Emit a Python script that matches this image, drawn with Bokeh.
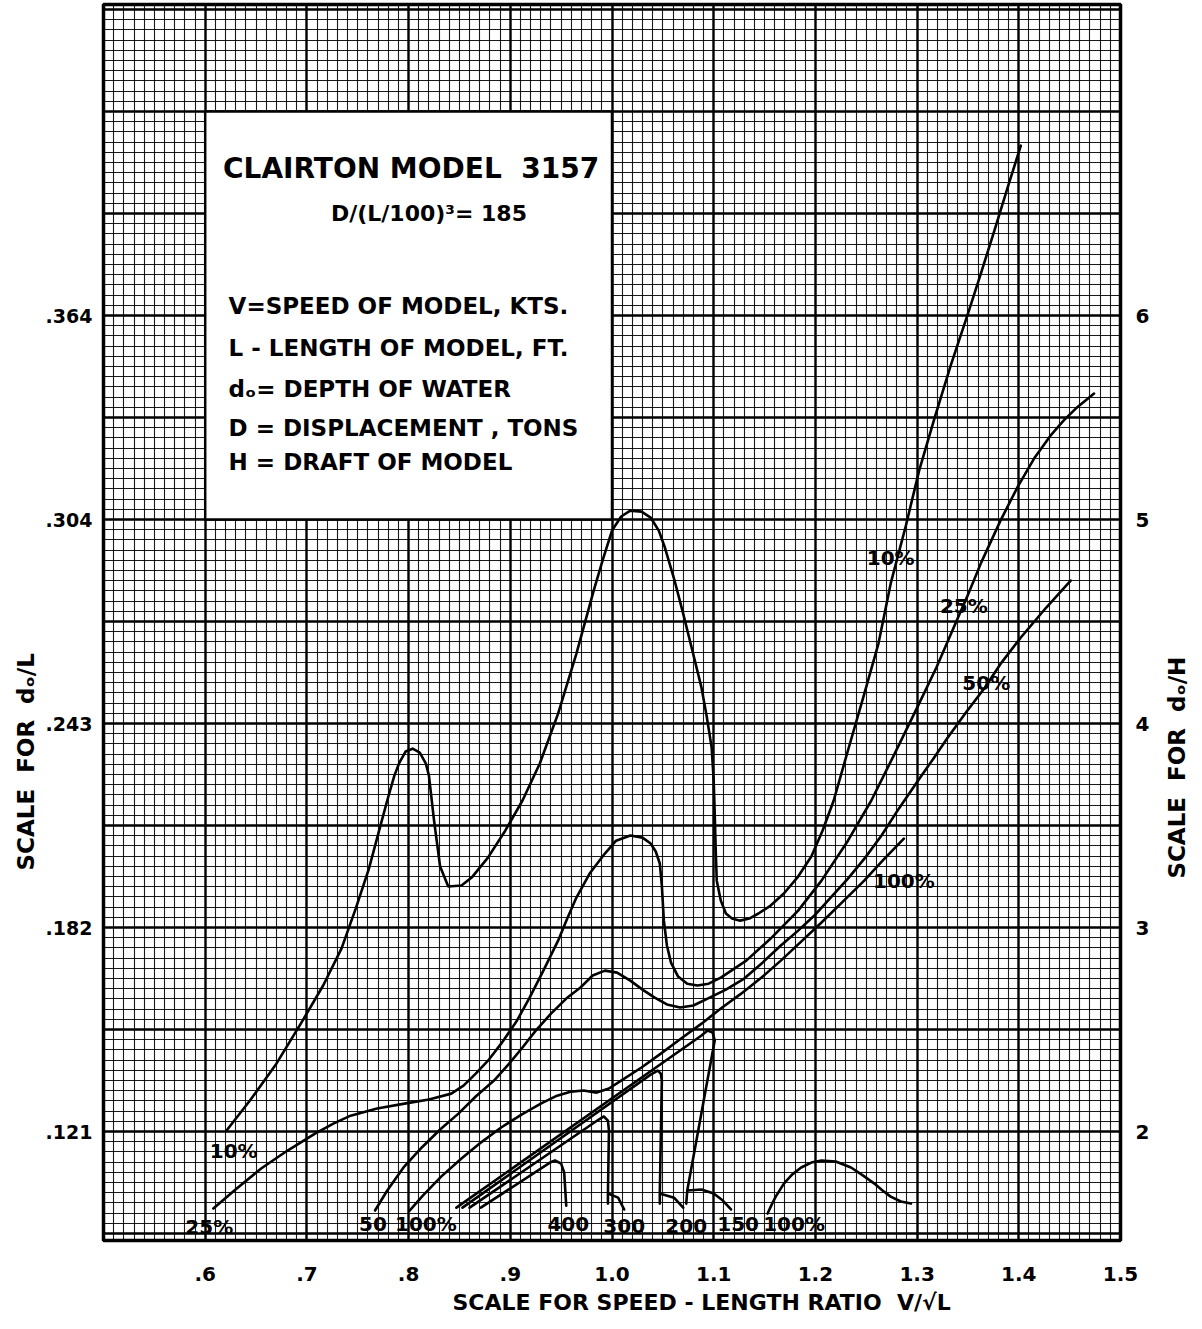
import math
from bokeh.plotting import figure
from bokeh.models import Range1d, LinearAxis, FixedTicker, BoxAnnotation, Label, Title
from bokeh.embed import file_html
from bokeh.resources import INLINE

FONT = "DejaVu Sans"

# ---- axis ticks / labels ----
x_ticks = [0.6, 0.7, 0.8, 0.9, 1.0, 1.1, 1.2, 1.3, 1.4, 1.5]
x_tick_labels = [".6", ".7", ".8", ".9", "1.0", "1.1", "1.2", "1.3", "1.4", "1.5"]
dh_ticks = [2, 3, 4, 5, 6]
dh_tick_labels = ["2", "3", "4", "5", "6"]
dl_tick_labels = [".121", ".182", ".243", ".304", ".364"]

# ---- curves: x = V/sqrt(L), y = d0/H (right scale) ----
v10 = [0.621, 0.644, 0.670, 0.694, 0.716, 0.734, 0.748, 0.761, 0.771, 0.779, 0.786, 0.791,
       0.797, 0.804, 0.811, 0.817, 0.820, 0.825, 0.831, 0.839, 0.852, 0.862, 0.878, 0.895,
       0.912, 0.929, 0.947, 0.965, 0.982, 0.991, 1.000, 1.009, 1.018, 1.029, 1.038, 1.046,
       1.052, 1.061, 1.070, 1.079, 1.088, 1.093, 1.098, 1.100, 1.101, 1.102, 1.103, 1.107,
       1.112, 1.118, 1.126, 1.135, 1.144, 1.156, 1.169, 1.183, 1.196, 1.207, 1.218, 1.232,
       1.247, 1.262, 1.274, 1.289, 1.302, 1.317, 1.333, 1.350, 1.363, 1.376, 1.389, 1.402]
dh10 = [2.005, 2.152, 2.333, 2.529, 2.716, 2.897, 3.093, 3.289, 3.475, 3.623, 3.745, 3.809,
        3.863, 3.877, 3.858, 3.804, 3.745, 3.525, 3.299, 3.201, 3.206, 3.245, 3.343, 3.475,
        3.623, 3.804, 4.049, 4.343, 4.652, 4.804, 4.946, 5.015, 5.044, 5.039, 5.010, 4.946,
        4.863, 4.711, 4.539, 4.358, 4.176, 4.039, 3.882, 3.721, 3.559, 3.377, 3.230, 3.132,
        3.069, 3.044, 3.034, 3.044, 3.069, 3.108, 3.167, 3.250, 3.348, 3.475, 3.623, 3.868,
        4.127, 4.392, 4.686, 4.971, 5.240, 5.495, 5.755, 6.010, 6.211, 6.417, 6.627, 6.833]

v25 = [0.608, 0.631, 0.655, 0.681, 0.708, 0.726, 0.743, 0.769, 0.796, 0.820, 0.842, 0.854,
       0.866, 0.879, 0.891, 0.906, 0.919, 0.933, 0.947, 0.956, 0.965, 0.978, 0.993, 1.004,
       1.018, 1.030, 1.038, 1.043, 1.047, 1.049, 1.051, 1.054, 1.058, 1.065, 1.074, 1.084,
       1.095, 1.107, 1.132, 1.156, 1.183, 1.206, 1.232, 1.255, 1.277, 1.301, 1.319, 1.336,
       1.350, 1.363, 1.382, 1.399, 1.415, 1.432, 1.444, 1.456, 1.474]
dh25 = [1.623, 1.721, 1.819, 1.907, 1.990, 2.039, 2.078, 2.113, 2.137, 2.157, 2.186, 2.225,
        2.284, 2.353, 2.431, 2.539, 2.657, 2.794, 2.936, 3.044, 3.147, 3.265, 3.363, 3.426,
        3.451, 3.441, 3.412, 3.373, 3.314, 3.206, 3.034, 2.912, 2.828, 2.760, 2.725, 2.716,
        2.725, 2.755, 2.838, 2.946, 3.083, 3.230, 3.426, 3.623, 3.843, 4.088, 4.275, 4.471,
        4.632, 4.789, 4.995, 5.162, 5.299, 5.417, 5.485, 5.544, 5.618]

v50 = [0.767, 0.779, 0.795, 0.813, 0.831, 0.849, 0.866, 0.884, 0.898, 0.912, 0.925, 0.940,
       0.955, 0.969, 0.981, 0.993, 1.005, 1.018, 1.030, 1.042, 1.054, 1.067, 1.080, 1.094,
       1.112, 1.130, 1.148, 1.166, 1.183, 1.199, 1.215, 1.232, 1.249, 1.265, 1.282, 1.301,
       1.316, 1.330, 1.348, 1.366, 1.383, 1.402, 1.427, 1.451]
dh50 = [1.613, 1.711, 1.824, 1.922, 2.010, 2.088, 2.172, 2.250, 2.328, 2.412, 2.495, 2.578,
        2.652, 2.706, 2.765, 2.789, 2.779, 2.740, 2.696, 2.657, 2.623, 2.608, 2.618, 2.652,
        2.696, 2.750, 2.828, 2.912, 2.985, 3.059, 3.147, 3.240, 3.343, 3.451, 3.583, 3.721,
        3.828, 3.931, 4.054, 4.172, 4.299, 4.422, 4.569, 4.701]

v100 = [0.801, 0.814, 0.832, 0.852, 0.871, 0.891, 0.911, 0.930, 0.946, 0.960, 0.972, 0.985,
        0.997, 1.009, 1.029, 1.048, 1.068, 1.088, 1.107, 1.127, 1.147, 1.166, 1.186, 1.206,
        1.227, 1.248, 1.267, 1.287]
dh100 = [1.613, 1.686, 1.779, 1.868, 1.946, 2.020, 2.083, 2.137, 2.176, 2.196, 2.201, 2.191,
         2.211, 2.250, 2.314, 2.382, 2.456, 2.529, 2.603, 2.676, 2.755, 2.838, 2.931, 3.025,
         3.127, 3.230, 3.333, 3.436]

v150 = [0.847, 1.088, 1.094, 1.099, 1.101, 1.074, 1.073, 1.074, 1.088, 1.100, 1.109, 1.117]
dh150 = [1.627, 2.471, 2.495, 2.485, 2.446, 1.711, 1.647, 1.711, 1.716, 1.696, 1.662, 1.618]

v200 = [0.853, 1.038, 1.045, 1.048, 1.049, 1.047, 1.047, 1.047, 1.061, 1.070]
dh200 = [1.627, 2.279, 2.299, 2.284, 2.250, 1.696, 1.647, 1.696, 1.676, 1.627]

v300 = [0.860, 0.987, 0.992, 0.996, 0.997, 0.996, 0.996, 0.996, 1.006, 1.012]
dh300 = [1.627, 2.059, 2.074, 2.054, 2.005, 1.696, 1.647, 1.696, 1.676, 1.618]

v400 = [0.871, 0.939, 0.944, 0.950, 0.953, 0.955]
dh400 = [1.627, 1.848, 1.858, 1.843, 1.799, 1.637]

v100b = [1.153, 1.157, 1.161, 1.169, 1.177, 1.186, 1.196, 1.206, 1.220, 1.235, 1.247, 1.258,
         1.266, 1.274, 1.284, 1.294]
dh100b = [1.598, 1.642, 1.681, 1.745, 1.789, 1.824, 1.848, 1.858, 1.853, 1.824, 1.784, 1.745,
          1.711, 1.681, 1.657, 1.647]

# curve labels: text, x, y
curve_label_text = ["10%", "25%", "50", "100%", "400", "300", "200", "150", "100%",
                    "10%", "25%", "50%", "100%"]
curve_label_x = [0.628, 0.604, 0.765, 0.817, 0.957, 1.012, 1.073, 1.124, 1.179,
                 1.274, 1.346, 1.368, 1.287]
curve_label_y = [1.907, 1.534, 1.549, 1.549, 1.549, 1.539, 1.539, 1.549, 1.549,
                 4.814, 4.574, 4.201, 3.230]

title_text = "CLAIRTON MODEL\u00a0 3157"
formula_text = "D/(L/100)\u00b3= 185"
legend_lines = ["V=SPEED OF MODEL, KTS.",
                "L - LENGTH OF MODEL, FT.",
                "d\u2092= DEPTH OF WATER",
                "D = DISPLACEMENT , TONS",
                "H = DRAFT OF MODEL"]
legend_y = [6.049, 5.843, 5.642, 5.451, 5.284]

x_title = "SCALE FOR SPEED - LENGTH RATIO\u00a0 V/\u221aL"
left_title = "SCALE\u00a0 FOR\u00a0 d\u2092/L"
right_title = "SCALE\u00a0 FOR\u00a0 d\u2092/H"
right_title_start = 3.24   # d0/H level where the upward-reading right title begins

p = figure(frame_width=1017, frame_height=1236,
           x_range=Range1d(0.5, 1.5), y_range=Range1d(1.466, 7.525),
           output_backend="svg", toolbar_location=None,
           min_border_left=103, min_border_right=80, min_border_top=4, min_border_bottom=85,
           background_fill_color="white", border_fill_color="white")

# graph-paper grid
p.xgrid.ticker = FixedTicker(ticks=[0.5 + 0.1 * i for i in range(11)],
                             minor_ticks=[0.5 + 0.01 * i for i in range(101)])
p.ygrid.ticker = FixedTicker(ticks=[1.5 + 0.5 * i for i in range(13)],
                             minor_ticks=[1.45 + 0.05 * i for i in range(123)])
for g in (p.xgrid, p.ygrid):
    g.grid_line_color = "black"
    g.grid_line_width = 2.4
    g.grid_line_alpha = 1.0
    g.minor_grid_line_color = "black"
    g.minor_grid_line_width = 1.1
    g.minor_grid_line_alpha = 0.9

p.outline_line_color = "black"
p.outline_line_width = 3.5

def style_axis(ax, size):
    ax.axis_line_color = None
    ax.major_tick_line_color = None
    ax.minor_tick_line_color = None
    ax.major_tick_out = 0
    ax.major_tick_in = 0
    ax.major_label_text_font = FONT
    ax.major_label_text_font_style = "bold"
    ax.major_label_text_font_size = size
    ax.major_label_text_color = "black"

xa = p.xaxis[0]
style_axis(xa, "20px")
xa.ticker = FixedTicker(ticks=x_ticks)
xa.major_label_overrides = dict(zip(x_ticks, x_tick_labels))
xa.major_label_standoff = 26

ya = p.yaxis[0]
style_axis(ya, "19px")
ya.ticker = FixedTicker(ticks=dh_ticks)
ya.major_label_overrides = dict(zip(dh_ticks, dl_tick_labels))
ya.major_label_standoff = 11

ra = LinearAxis(ticker=FixedTicker(ticks=dh_ticks))
style_axis(ra, "20px")
ra.major_label_overrides = dict(zip(dh_ticks, dh_tick_labels))
ra.major_label_standoff = 15
p.add_layout(ra, "right")

# right-hand scale title, reading upwards (drawn as the single label of an outer axis)
rt = LinearAxis(ticker=FixedTicker(ticks=[right_title_start]))
style_axis(rt, "23px")
rt.major_label_overrides = {right_title_start: right_title}
rt.major_label_orientation = math.pi / 2
rt.major_label_standoff = 25
p.add_layout(rt, "right")

# axis titles of the bottom and left scales
p.add_layout(Title(text=x_title, align="left", offset=349, text_font=FONT,
                   text_font_size="22px", text_font_style="bold", text_color="black",
                   standoff=8), "below")
p.add_layout(Title(text=left_title, align="left", offset=370, text_font=FONT,
                   text_font_size="23px", text_font_style="bold", text_color="black",
                   standoff=8), "left")

LW = 2.6
for xs, ys in [(v10, dh10), (v25, dh25), (v50, dh50), (v100, dh100),
               (v150, dh150), (v200, dh200), (v300, dh300), (v400, dh400),
               (v100b, dh100b)]:
    p.line(xs, ys, line_color="black", line_width=LW, line_join="round", line_cap="round")

for t, x, y in zip(curve_label_text, curve_label_x, curve_label_y):
    p.add_layout(Label(x=x, y=y, text=t, text_font=FONT, text_font_style="bold",
                       text_font_size="20px", text_align="center", text_baseline="middle",
                       text_color="black"))

# white legend box
p.add_layout(BoxAnnotation(left=0.6, right=1.0, bottom=5.0, top=7.0,
                           fill_color="white", fill_alpha=1.0,
                           line_color="black", line_width=2.5, line_alpha=1.0))

p.add_layout(Label(x=0.6175, y=6.721, text=title_text, text_font=FONT, text_font_style="bold",
                   text_font_size="28px", text_align="left", text_baseline="middle",
                   text_color="black"))
p.add_layout(Label(x=0.820, y=6.50, text=formula_text, text_font=FONT, text_font_style="bold",
                   text_font_size="22px", text_align="center", text_baseline="middle",
                   text_color="black"))
for t, y in zip(legend_lines, legend_y):
    p.add_layout(Label(x=0.623, y=y, text=t, text_font=FONT, text_font_style="bold",
                       text_font_size="23px", text_align="left", text_baseline="middle",
                       text_color="black"))

html = file_html(p, INLINE, title="Clairton Model 3157")
with open("out.html", "w") as f:
    f.write(html)
